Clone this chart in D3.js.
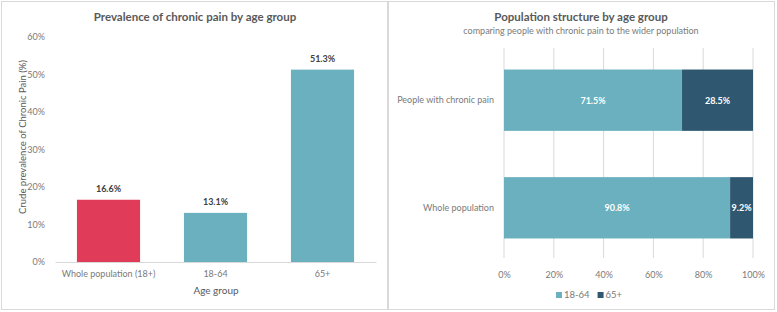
<!DOCTYPE html>
<html><head><meta charset="utf-8">
<script src="https://cdn.jsdelivr.net/npm/d3@7"></script>
<style>body{margin:0;background:#fff;} text{font-family:Lato,"Open Sans",sans-serif;}</style>
</head><body>
<svg id="c" width="777" height="312"></svg>
<script>
// Left chart data
const prevCategories = ["Whole population (18+)", "18-64", "65+"];
const prevValues = [16.6, 13.1, 51.3];
const prevColors = ["#E03C5A", "#6AB0BE", "#6AB0BE"];
const prevTicks = [0, 10, 20, 30, 40, 50, 60];

// Right chart data
const structCategories = ["People with chronic pain", "Whole population"];
const structSeries = ["18-64", "65+"];
const structYoung = [71.5, 90.8];
const structOld = [28.5, 9.2];
const structColors = ["#6AB0BE", "#2F5870"];
const structTicks = [0, 20, 40, 60, 80, 100];

const svg = d3.select("#c");
const grey = "#595959";
const tickGrey = "#7a7a7a";

// panel borders
svg.append("rect").attr("x",1.5).attr("y",1.5).attr("width",386).attr("height",308).attr("fill","none").attr("stroke","#d9d9d9");
svg.append("rect").attr("x",388.5).attr("y",1.5).attr("width",386).attr("height",308).attr("fill","none").attr("stroke","#d9d9d9");

// ---- Left chart
const L = svg.append("g");
const x1 = d3.scaleBand().domain(prevCategories).range([55, 376]).paddingInner(0.41).paddingOuter(0.205);
const y1 = d3.scaleLinear().domain([0, 60]).range([262, 37]);

L.append("text").attr("x",195).attr("y",21).attr("text-anchor","middle").attr("font-size",11.5).attr("font-weight","bold").attr("fill",grey).text("Prevalence of chronic pain by age group");

const ya = L.append("g").attr("transform","translate(55,0)").call(d3.axisLeft(y1).tickValues(prevTicks).tickFormat(d=>d+"%").tickSize(0).tickPadding(10));
ya.select(".domain").remove();
ya.selectAll("text").attr("font-size",9).attr("fill",tickGrey).attr("font-family","Lato, sans-serif");

L.selectAll(".bar").data(prevValues).join("rect")
  .attr("x",(d,i)=>x1(prevCategories[i])).attr("width",x1.bandwidth())
  .attr("y",d=>y1(d)).attr("height",d=>y1(0)-y1(d))
  .attr("fill",(d,i)=>prevColors[i]);

L.selectAll(".lbl").data(prevValues).join("text")
  .attr("x",(d,i)=>x1(prevCategories[i])+x1.bandwidth()/2).attr("y",d=>y1(d)-8)
  .attr("text-anchor","middle").attr("font-size",9).attr("font-weight","bold").attr("fill","#404040")
  .text(d=>d.toFixed(1)+"%");

const xa = L.append("g").attr("transform","translate(0,262)").call(d3.axisBottom(x1).tickSize(0).tickPadding(9));
xa.select(".domain").attr("stroke","#d9d9d9");
xa.selectAll("text").attr("font-size",9).attr("fill",tickGrey).attr("font-family","Lato, sans-serif");

L.append("text").attr("x",216).attr("y",294).attr("text-anchor","middle").attr("font-size",10).attr("fill",grey).text("Age group");
L.append("text").attr("transform","translate(26,137) rotate(-90)").attr("text-anchor","middle").attr("font-size",9.5).attr("fill",grey).text("Crude prevalence of Chronic Pain (%)");

// ---- Right chart
const R = svg.append("g");
const x2 = d3.scaleLinear().domain([0,100]).range([504, 753]);
const y2 = d3.scaleBand().domain(structCategories).range([48, 260]).paddingInner(0.43).paddingOuter(0.2);

R.append("text").attr("x",581).attr("y",21).attr("text-anchor","middle").attr("font-size",11.5).attr("font-weight","bold").attr("fill",grey).text("Population structure by age group");
R.append("text").attr("x",581).attr("y",34).attr("text-anchor","middle").attr("font-size",9).attr("fill",tickGrey).text("comparing people with chronic pain to the wider population");

const gx = R.append("g").attr("transform","translate(0,258)").call(d3.axisBottom(x2).tickValues(structTicks).tickFormat(d=>d+"%").tickSize(0).tickPadding(14));
gx.select(".domain").remove();
gx.selectAll("text").attr("font-size",9).attr("fill",tickGrey).attr("font-family","Lato, sans-serif");
R.selectAll(".grid").data(structTicks).join("line")
  .attr("x1",d=>x2(d)).attr("x2",d=>x2(d)).attr("y1",48).attr("y2",258).attr("stroke","#d9d9d9");

const stacked = structCategories.map((c,i)=>({cat:c, parts:[{s:0,v:structYoung[i],k:0},{s:structYoung[i],v:structOld[i],k:1}]}));
stacked.forEach(row=>{
  row.parts.forEach(p=>{
    R.append("rect").attr("x",x2(p.s)).attr("width",x2(p.s+p.v)-x2(p.s))
      .attr("y",y2(row.cat)).attr("height",y2.bandwidth()).attr("fill",structColors[p.k]);
    R.append("text").attr("x",(x2(p.s)+x2(p.s+p.v))/2).attr("y",y2(row.cat)+y2.bandwidth()/2+3.5)
      .attr("text-anchor","middle").attr("font-size",9).attr("font-weight","bold").attr("fill","#fff").text(p.v.toFixed(1)+"%");
  });
});

const gy = R.append("g").attr("transform","translate(504,0)").call(d3.axisLeft(y2).tickSize(0).tickPadding(10));
gy.select(".domain").remove();
gy.selectAll("text").attr("font-size",9).attr("fill",tickGrey).attr("font-family","Lato, sans-serif");

// legend
const lg = R.append("g");
let lx = 556;
structSeries.forEach((s,i)=>{
  lg.append("rect").attr("x",lx).attr("y",292).attr("width",6).attr("height",6).attr("fill",structColors[i]);
  const t = lg.append("text").attr("x",lx+8).attr("y",298).attr("font-size",9.5).attr("fill",tickGrey).text(s);
  lx += 8 + t.node().getComputedTextLength() + 8;
});
</script>
</body></html>
